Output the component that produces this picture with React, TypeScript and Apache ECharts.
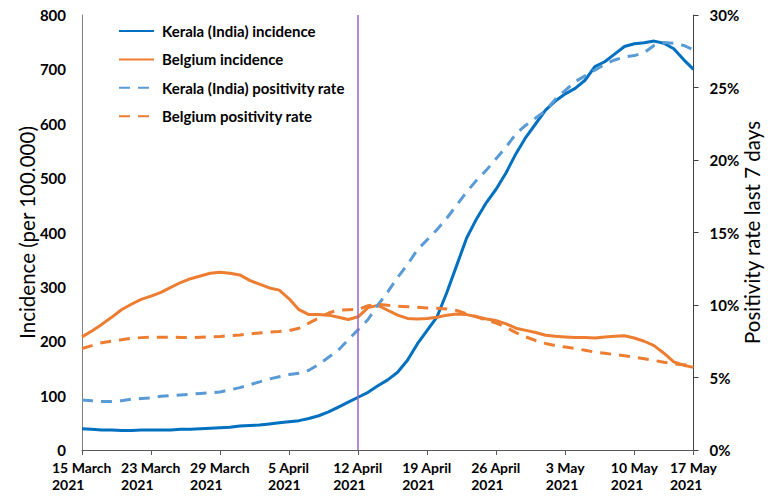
import React, { useEffect, useRef } from "react";
import * as echarts from "echarts";

// 63 daily points, 15 March 2021 .. 16 May 2021 (axis end labelled "17 May")
const startDate = new Date(2021, 2, 15);
const categories: string[] = Array.from({ length: 63 }, (_, i) => {
  const d = new Date(startDate.getTime() + i * 86400000);
  return `${d.getDate()}/${d.getMonth() + 1}/2021`;
});

const tickIndices = [0, 7, 14, 21, 28, 35, 42, 49, 56, 62];
const tickLabels = [
  ["15 March", "2021"],
  ["23 March", "2021"],
  ["29 March", "2021"],
  ["5 April", "2021"],
  ["12 April", "2021"],
  ["19 April", "2021"],
  ["26 April", "2021"],
  ["3 May", "2021"],
  ["10 May", "2021"],
  ["17 May", "2021"],
];

const keralaIncidence = [
  39, 38, 37, 37, 36, 36, 37, 37, 37, 37, 38, 38, 39, 40, 41, 42, 44, 45, 46, 48,
  50, 52, 54, 58, 63, 70, 79, 88, 97, 106, 118, 129, 143, 165, 195, 220, 245, 290,
  340, 390, 425, 455, 480, 510, 545, 575, 600, 625, 642, 655, 665, 680, 705, 714,
  728, 742, 747, 749, 752, 748, 738, 718, 700,
];

const belgiumIncidence = [
  208, 219, 231, 244, 258, 268, 277, 283, 290, 299, 308, 315, 320, 325, 327, 325,
  322, 312, 305, 298, 294, 278, 258, 249, 249, 248, 244, 240, 245, 262, 266, 257,
  248, 242, 241, 242, 244, 248, 250, 249, 245, 241, 238, 232, 224, 220, 216, 211,
  209, 208, 207, 207, 206, 208, 209, 210, 206, 200, 192, 178, 162, 156, 152,
];

const keralaPositivity = [
  3.45, 3.4, 3.35, 3.35, 3.4, 3.5, 3.55, 3.6, 3.7, 3.75, 3.8, 3.85, 3.9, 3.95, 4.0,
  4.15, 4.3, 4.5, 4.7, 4.9, 5.05, 5.2, 5.3, 5.5, 5.9, 6.4, 6.9, 7.6, 8.3, 9.0, 10.0,
  10.9, 11.9, 12.8, 13.8, 14.5, 15.2, 16.0, 16.9, 17.8, 18.6, 19.3, 20.1, 20.9,
  21.8, 22.4, 22.9, 23.4, 24.2, 24.8, 25.4, 25.8, 26.2, 26.6, 26.9, 27.1, 27.2,
  27.4, 27.9, 28.1, 28.05, 27.9, 27.6,
];

const belgiumPositivity = [
  7.0, 7.2, 7.4, 7.5, 7.6, 7.7, 7.75, 7.78, 7.78, 7.78, 7.76, 7.75, 7.78, 7.8, 7.83,
  7.88, 7.93, 8.0, 8.07, 8.13, 8.18, 8.24, 8.4, 8.75, 9.1, 9.45, 9.65, 9.68, 9.7,
  9.95, 10.05, 9.98, 9.92, 9.88, 9.84, 9.8, 9.77, 9.72, 9.62, 9.4, 9.2, 8.95, 8.75,
  8.45, 8.1, 7.8, 7.55, 7.35, 7.2, 7.1, 7.0, 6.88, 6.75, 6.67, 6.58, 6.5, 6.4, 6.3,
  6.18, 6.05, 5.95, 5.88, 5.85,
];

const markerIndex = 28; // 12 April

const FONT = "Lato, 'Open Sans', sans-serif";

export default function App() {
  const ref = useRef<HTMLDivElement>(null);

  useEffect(() => {
    document.body.style.margin = "0";
    if (!ref.current) return;
    const chart = echarts.init(ref.current, undefined, { renderer: "svg" });

    const xFontSize = 14;
    const canvas = document.createElement("canvas");
    const ctx = canvas.getContext("2d");
    const rich: Record<string, any> = {};
    tickLabels.forEach((lines, k) => {
      let w = 60;
      if (ctx) {
        ctx.font = `bold ${xFontSize}px Lato`;
        w = Math.max(...lines.map((l) => ctx.measureText(l).width));
      }
      rich["t" + k] = {
        width: Math.ceil(w),
        align: "left",
        fontSize: xFontSize,
        fontWeight: "bold",
        fontFamily: FONT,
        color: "#000",
        lineHeight: 17,
      };
    });

    const isTick = (index: number) => tickIndices.indexOf(index) >= 0;

    chart.setOption({
      animation: false,
      backgroundColor: "#fff",
      grid: { left: 82, right: 83.5, top: 15, bottom: 54, containLabel: false },
      legend: {
        orient: "vertical",
        left: 118,
        top: 23.5,
        padding: 0,
        itemWidth: 35,
        itemHeight: 14,
        itemGap: 13.4,
        itemStyle: { opacity: 0 },
        textStyle: {
          fontSize: 15,
          fontWeight: "bold",
          color: "#000",
          fontFamily: FONT,
          padding: [0, 0, 0, 3],
        },
        data: [
          "Kerala (India) incidence",
          "Belgium incidence",
          "Kerala (India) positivity rate",
          "Belgium positivity rate",
        ],
      },
      xAxis: {
        type: "category",
        data: categories,
        boundaryGap: false,
        axisLine: { lineStyle: { color: "#595959", width: 1 } },
        axisTick: {
          show: true,
          interval: (index: number) => isTick(index),
          length: 5,
          lineStyle: { color: "#595959" },
        },
        axisLabel: {
          interval: (index: number) => isTick(index),
          margin: 9,
          formatter: (_v: string, index: number) => {
            const k = tickIndices.indexOf(index);
            if (k < 0) return "";
            return tickLabels[k].map((l) => `{t${k}|${l}}`).join("\n");
          },
          rich,
        },
        splitLine: { show: false },
      },
      yAxis: [
        {
          type: "value",
          min: 0,
          max: 800,
          interval: 100,
          position: "left",
          name: "Incidence (per 100.000)",
          nameLocation: "middle",
          nameRotate: 90,
          nameGap: 45,
          nameMoveOverlap: false,
          nameTextStyle: { fontSize: 20.5, color: "#000", fontFamily: FONT },
          axisLine: { show: true, lineStyle: { color: "#7f7f7f", width: 1 } },
          axisTick: { show: false },
          axisLabel: {
            margin: 16,
            fontSize: 15,
            fontWeight: "bold",
            color: "#000",
            fontFamily: FONT,
          },
          splitLine: { show: false },
        },
        {
          type: "value",
          min: 0,
          max: 30,
          interval: 5,
          position: "right",
          name: "Positivity rate last 7 days",
          nameLocation: "middle",
          nameRotate: 90,
          nameGap: 48,
          nameMoveOverlap: false,
          nameTextStyle: { fontSize: 20.5, color: "#000", fontFamily: FONT },
          axisLine: { show: true, lineStyle: { color: "#404040", width: 1 } },
          axisTick: { show: true, length: 5, lineStyle: { color: "#404040" } },
          axisLabel: {
            margin: 16,
            fontSize: 15,
            fontWeight: "bold",
            color: "#000",
            fontFamily: FONT,
            formatter: "{value}%",
          },
          splitLine: { show: false },
        },
      ],
      series: [
        {
          name: "Kerala (India) incidence",
          type: "line",
          yAxisIndex: 0,
          data: keralaIncidence,
          symbol: "none",
          lineStyle: { color: "#0070C0", width: 3 },
          itemStyle: { color: "#0070C0" },
          markLine: {
            silent: true,
            symbol: "none",
            label: { show: false },
            lineStyle: { color: "#9E62C8", width: 1.5, type: "solid" },
            data: [{ xAxis: markerIndex }],
          },
        },
        {
          name: "Belgium incidence",
          type: "line",
          yAxisIndex: 0,
          data: belgiumIncidence,
          symbol: "none",
          lineStyle: { color: "#ED7D31", width: 3 },
          itemStyle: { color: "#ED7D31" },
        },
        {
          name: "Kerala (India) positivity rate",
          type: "line",
          yAxisIndex: 1,
          data: keralaPositivity,
          symbol: "none",
          lineStyle: { color: "#5B9BD5", width: 3, type: [11, 8] },
          itemStyle: { color: "#5B9BD5" },
        },
        {
          name: "Belgium positivity rate",
          type: "line",
          yAxisIndex: 1,
          data: belgiumPositivity,
          symbol: "none",
          lineStyle: { color: "#ED7D31", width: 3, type: [11, 8] },
          itemStyle: { color: "#ED7D31" },
        },
      ],
    });

    return () => chart.dispose();
  }, []);

  return <div ref={ref} style={{ width: 777, height: 504 }} />;
}
